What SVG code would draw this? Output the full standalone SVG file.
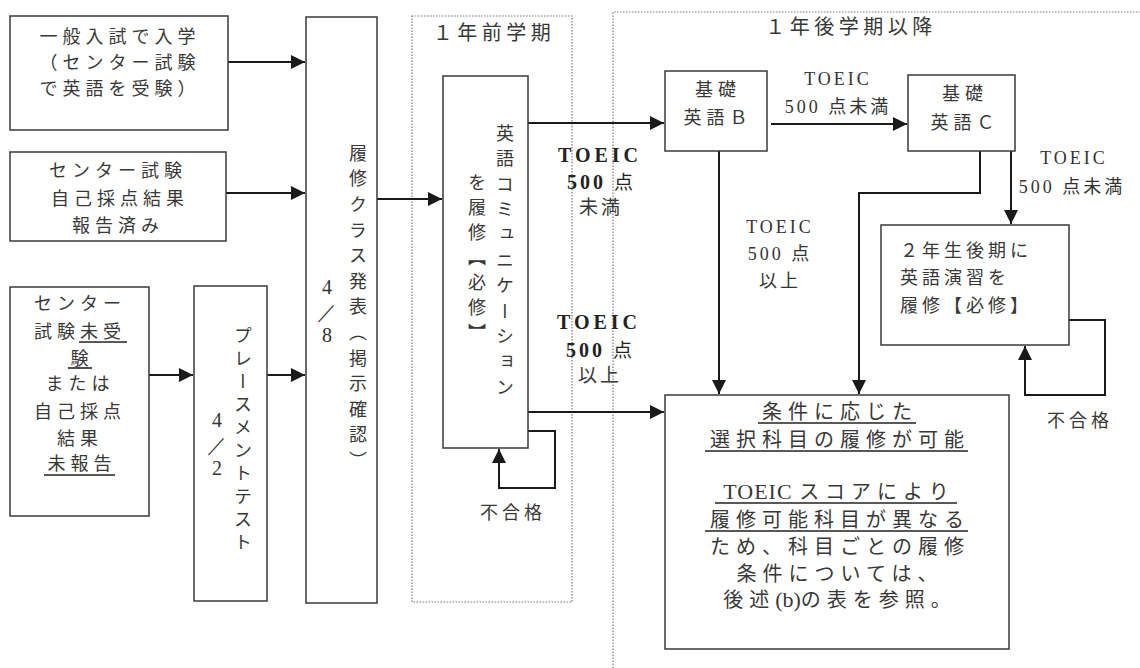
<svg xmlns="http://www.w3.org/2000/svg" width="1140" height="668" viewBox="0 0 1140 668">
<style>
.box{fill:#fff;stroke:#3a3a3a;stroke-width:1.5}
.dot{fill:none;stroke:#777;stroke-width:1.2;stroke-dasharray:1.5 1.5}
.ln{fill:none;stroke:#1a1a1a;stroke-width:2}
.ul{stroke:#222;stroke-width:1.6}
.jp{font-family:"Noto Sans CJK JP",sans-serif;font-size:18px;fill:#383838;letter-spacing:5px}
.big{font-size:20px;letter-spacing:6px}
.c{text-anchor:middle}
.v{writing-mode:vertical-rl}
.num{font-family:"Liberation Serif",serif;font-size:20px;fill:#333;text-anchor:middle}
.tb{font-family:"Liberation Serif","Noto Sans CJK JP",serif;font-size:20px;fill:#222;text-anchor:middle}
.tr{font-family:"Liberation Serif","Noto Sans CJK JP",serif;font-size:18px;fill:#333;text-anchor:middle;letter-spacing:3px}
.b{font-weight:bold}
.j{font-family:"Noto Sans CJK JP",sans-serif;font-weight:normal}
</style>
<defs>
<marker id="ah" markerUnits="userSpaceOnUse" markerWidth="15" markerHeight="14" refX="14" refY="7" orient="auto">
<path d="M0,0 L14,7 L0,14 z" fill="#1a1a1a"/>
</marker>
</defs>

<g id="regions">
<rect class="dot" x="412" y="16" width="160" height="586"/>
<text class="jp c big" x="494" y="40" style="letter-spacing:4.5px">１年前学期</text>
<path class="dot" d="M613,668 V12 H1140"/>
<text class="jp c big" x="851" y="34" style="letter-spacing:4.5px">１年後学期以降</text>
</g>

<g id="connectors">
<path class="ln" d="M228,62 H305" marker-end="url(#ah)"/>
<path class="ln" d="M226,193 H305" marker-end="url(#ah)"/>
<path class="ln" d="M149,375 H193" marker-end="url(#ah)"/>
<path class="ln" d="M267,375 H305" marker-end="url(#ah)"/>
<path class="ln" d="M377,199 H442" marker-end="url(#ah)"/>
<path class="ln" d="M528,123 H664" marker-end="url(#ah)"/>
<path class="ln" d="M528,412 H664" marker-end="url(#ah)"/>
<path class="ln" d="M528,431 H555 V488 H499 V449" marker-end="url(#ah)"/>
<path class="ln" d="M771,124 H907" marker-end="url(#ah)"/>
<path class="ln" d="M719,151 V394" marker-end="url(#ah)"/>
<path class="ln" d="M980,151 V193 H859 V394" marker-end="url(#ah)"/>
<path class="ln" d="M1011,151 V224" marker-end="url(#ah)"/>
<path class="ln" d="M1069,320 H1105 V395 H1025 V346" marker-end="url(#ah)"/>

<text class="tb" x="600" y="162"><tspan class="b" style="letter-spacing:4px">TOEIC</tspan></text>
<text class="tb" x="600" y="189"><tspan class="b" style="letter-spacing:3px">500 </tspan><tspan class="j" style="font-size:19px">点</tspan></text>
<text class="jp c" x="601" y="214" style="font-size:19px;letter-spacing:3px">未満</text>
<text class="tb" x="599" y="329"><tspan class="b" style="letter-spacing:4px">TOEIC</tspan></text>
<text class="tb" x="599" y="357"><tspan class="b" style="letter-spacing:3px">500 </tspan><tspan class="j" style="font-size:19px">点</tspan></text>
<text class="jp c" x="600" y="382" style="font-size:19px;letter-spacing:3px">以上</text>
<text class="jp c" x="513" y="519" style="letter-spacing:4px">不合格</text>

<text class="tr" x="838" y="85">TOEIC</text>
<text class="tr" x="838" y="113">500 点未満</text>
<text class="tr" x="780" y="233">TOEIC</text>
<text class="tr" x="780" y="260">500 点</text>
<text class="tr" x="780" y="287">以上</text>
<text class="tr" x="1074" y="164">TOEIC</text>
<text class="tr" x="1072" y="193">500 点未満</text>
<text class="jp c" x="1080" y="427" style="letter-spacing:4px">不合格</text>
</g>

<g id="node-ippan">
<rect class="box" x="10" y="16" width="218" height="114"/>
<text class="jp c" x="120" y="43">一般入試で入学</text>
<text class="jp c" x="120" y="69">（センター試験</text>
<text class="jp c" x="120" y="95">で英語を受験）</text>
</g>

<g id="node-jiko">
<rect class="box" x="10" y="152" width="216" height="89"/>
<text class="jp c" x="118" y="177">センター試験</text>
<text class="jp c" x="120" y="205">自己採点結果</text>
<text class="jp c" x="118" y="232">報告済み</text>
</g>

<g id="node-mijuken">
<rect class="box" x="10" y="287" width="139" height="229"/>
<text class="jp c" x="80" y="310">センター</text>
<text class="jp c" x="80" y="338">試験未受</text>
<text class="jp c" x="82" y="365">験</text>
<text class="jp c" x="80" y="390">または</text>
<text class="jp c" x="80" y="418">自己採点</text>
<text class="jp c" x="80" y="445">結果</text>
<text class="jp c" x="82" y="470">未報告</text>
<line class="ul" x1="79" y1="342" x2="127" y2="342"/>
<line class="ul" x1="68" y1="368" x2="92" y2="368"/>
<line class="ul" x1="44" y1="475" x2="115" y2="475"/>
</g>

<g id="node-placement">
<rect class="box" x="194" y="286" width="73" height="315"/>
<text class="jp v" x="243" y="326">プレースメントテスト</text>
<text class="num" x="217" y="427">4</text>
<text class="num" x="217" y="452">／</text>
<text class="num" x="217" y="475">2</text>
</g>

<g id="node-class">
<rect class="box" x="306" y="17" width="71" height="586"/>
<text class="jp v" x="358" y="144" style="letter-spacing:7.6px">履修クラス発表（掲示確認）</text>
<text class="num" x="327" y="294">4</text>
<text class="num" x="327" y="319">／</text>
<text class="num" x="327" y="342">8</text>
</g>

<g id="node-eicomm">
<rect class="box" x="443" y="76" width="85" height="372"/>
<text class="jp v" x="505" y="124" style="letter-spacing:7.4px">英語コミュニケーション</text>
<text class="jp v" x="477" y="173" style="letter-spacing:7px">を履修【必修】</text>
</g>

<g id="node-kisoB">
<rect class="box" x="665" y="71" width="102" height="80"/>
<text class="jp c" x="718" y="96">基礎</text>
<text class="jp c" x="718" y="124">英語Ｂ</text>
</g>

<g id="node-kisoC">
<rect class="box" x="908" y="75" width="107" height="76"/>
<text class="jp c" x="965" y="100">基礎</text>
<text class="jp c" x="965" y="129">英語Ｃ</text>
</g>

<g id="node-enshu">
<rect class="box" x="881" y="225" width="188" height="120"/>
<text class="jp" x="900" y="257" style="letter-spacing:4px">２年生後期に</text>
<text class="jp" x="900" y="284" style="letter-spacing:4px">英語演習を</text>
<text class="jp" x="900" y="312" style="letter-spacing:4px">履修【必修】</text>
</g>

<g id="node-sentaku">
<rect class="box" x="665" y="395" width="344" height="254"/>
<text class="jp c big" x="840" y="419">条件に応じた</text>
<text class="jp c big" x="840" y="447">選択科目の履修が可能</text>
<text class="jp c big" x="839" y="499"><tspan style="font-family:'Liberation Serif',serif;font-size:22px;letter-spacing:1px">TOEIC </tspan>スコアにより</text>
<text class="jp c big" x="840" y="527">履修可能科目が異なる</text>
<text class="jp c big" x="840" y="554">ため、科目ごとの履修</text>
<text class="jp c big" x="840" y="581">条件については、</text>
<text class="jp c big" x="840" y="607">後述<tspan style="font-family:'Liberation Serif',serif;font-size:22px;letter-spacing:0px">(b)</tspan>の表を参照。</text>
<line class="ul" x1="758" y1="423" x2="916" y2="423"/>
<line class="ul" x1="705" y1="451" x2="968" y2="451"/>
<line class="ul" x1="715" y1="503" x2="957" y2="503"/>
<line class="ul" x1="705" y1="531" x2="968" y2="531"/>
</g>
</svg>
